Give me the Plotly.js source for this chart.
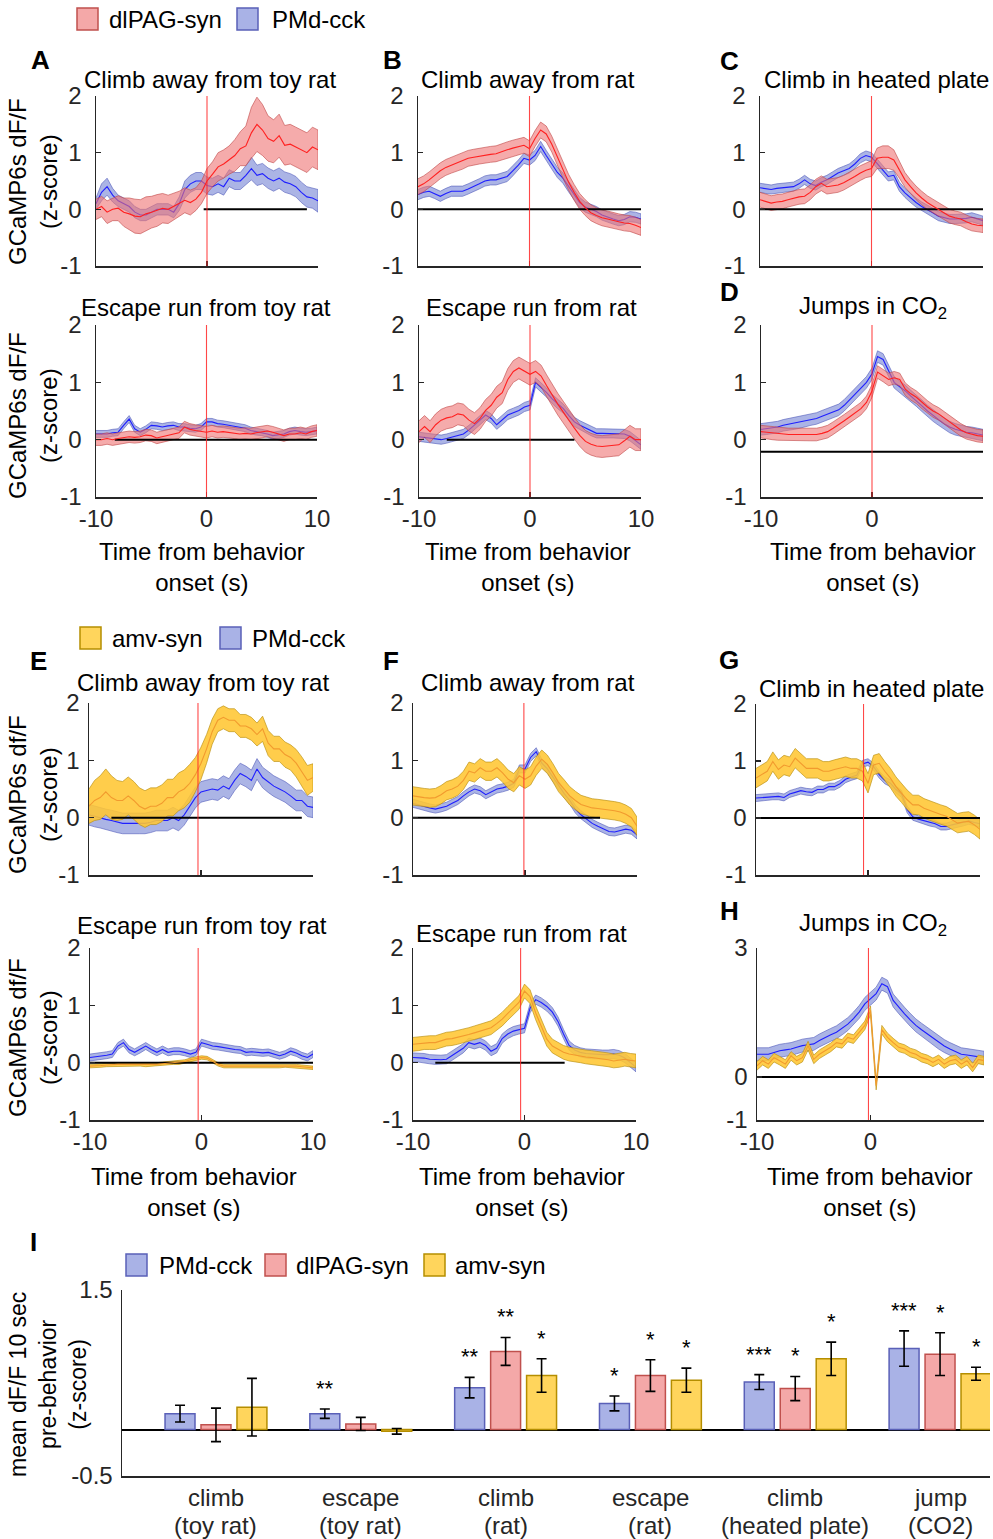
<!DOCTYPE html>
<html><head><meta charset="utf-8">
<script src="https://cdn.plot.ly/plotly-3.0.1.min.js"></script>
<style>html,body{margin:0;padding:0;background:#fff}#chart{width:993px;height:1539px}</style>
</head><body><div id="chart"></div>
<script>
// ---------------- DATA ----------------
const t = [-10,-9.5,-9,-8.5,-8,-7.5,-7,-6.5,-6,-5.5,-5,-4.5,-4,-3.5,-3,-2.5,-2,-1.5,-1,-0.5,0,0.5,1,1.5,2,2.5,3,3.5,4,4.5,5,5.5,6,6.5,7,7.5,8,8.5,9,9.5,10];

// Top block: PMd-cck vs dlPAG-syn
const climbToyPMd = [0.1,0.3,0.4,0.25,0.15,0.1,0.05,-0.05,-0.1,-0.1,-0.05,0.0,0.0,0.0,-0.05,0.1,0.35,0.45,0.5,0.5,0.42,0.4,0.45,0.4,0.55,0.5,0.5,0.6,0.72,0.6,0.63,0.55,0.5,0.55,0.48,0.45,0.4,0.3,0.22,0.2,0.15];
const climbToyPMdSem = [0.1,0.15,0.15,0.12,0.1,0.1,0.1,0.1,0.1,0.1,0.1,0.1,0.1,0.1,0.1,0.12,0.15,0.15,0.15,0.15,0.15,0.15,0.15,0.15,0.15,0.15,0.15,0.17,0.2,0.18,0.18,0.18,0.18,0.18,0.18,0.18,0.18,0.18,0.18,0.18,0.2];
const climbToyDl = [0.0,0.05,-0.05,0.0,0.02,-0.05,-0.08,-0.12,-0.13,-0.08,-0.05,-0.02,0.02,0.0,0.05,0.1,0.16,0.12,0.18,0.3,0.5,0.62,0.75,0.8,0.87,0.95,1.07,1.12,1.35,1.5,1.4,1.25,1.2,1.3,1.13,1.15,1.1,1.05,1.0,1.1,1.05];
const climbToyDlSem = [0.18,0.18,0.2,0.2,0.22,0.25,0.28,0.3,0.3,0.3,0.28,0.28,0.26,0.25,0.24,0.22,0.22,0.22,0.2,0.2,0.22,0.22,0.25,0.25,0.25,0.28,0.3,0.35,0.45,0.48,0.45,0.4,0.38,0.38,0.35,0.35,0.35,0.35,0.35,0.35,0.35];

const climbRatPMd = [0.26,0.3,0.32,0.28,0.23,0.28,0.32,0.32,0.32,0.36,0.4,0.45,0.5,0.52,0.52,0.55,0.58,0.68,0.78,0.9,0.87,0.95,1.11,0.95,0.8,0.65,0.55,0.4,0.25,0.12,0.04,0.0,-0.04,-0.1,-0.14,-0.17,-0.2,-0.18,-0.13,-0.14,-0.17];
const climbRatPMdSem = 0.09;
const climbRatDl = [0.4,0.45,0.52,0.6,0.68,0.74,0.78,0.82,0.85,0.9,0.92,0.94,0.96,0.97,0.98,1.02,1.05,1.08,1.1,1.13,1.07,1.25,1.4,1.33,1.15,0.92,0.69,0.48,0.3,0.14,0.03,-0.06,-0.11,-0.15,-0.17,-0.2,-0.22,-0.24,-0.25,-0.28,-0.32];
const climbRatDlSem = 0.14;

const heatPMd = [0.38,0.36,0.35,0.37,0.38,0.39,0.4,0.45,0.52,0.45,0.42,0.48,0.52,0.58,0.64,0.68,0.72,0.8,0.9,0.95,0.92,0.81,0.69,0.58,0.6,0.4,0.29,0.2,0.12,0.05,0.0,-0.06,-0.12,-0.15,-0.17,-0.17,-0.17,-0.16,-0.14,-0.17,-0.2];
const heatPMdSem = 0.08;
const heatDl = [0.17,0.14,0.11,0.13,0.14,0.17,0.2,0.22,0.23,0.3,0.4,0.46,0.4,0.42,0.43,0.47,0.52,0.58,0.64,0.69,0.72,0.9,0.92,0.92,0.87,0.7,0.52,0.4,0.29,0.2,0.12,0.06,0.0,-0.06,-0.12,-0.15,-0.17,-0.22,-0.26,-0.28,-0.29];
const heatDlSem = [0.13,0.13,0.13,0.13,0.13,0.13,0.13,0.13,0.13,0.13,0.13,0.13,0.13,0.13,0.13,0.13,0.13,0.13,0.13,0.13,0.14,0.18,0.2,0.2,0.18,0.15,0.13,0.12,0.12,0.12,0.12,0.12,0.12,0.12,0.12,0.12,0.12,0.12,0.12,0.12,0.12];

const escToyPMd = [0.1,0.1,0.1,0.12,0.13,0.25,0.36,0.19,0.13,0.18,0.25,0.24,0.22,0.24,0.25,0.22,0.22,0.2,0.19,0.22,0.31,0.31,0.28,0.27,0.25,0.23,0.22,0.2,0.16,0.14,0.13,0.1,0.07,0.08,0.1,0.14,0.16,0.14,0.13,0.14,0.16];
const escToyPMdSem = 0.06;
const escToyDl = [0.0,0.0,0.02,0.0,0.02,0.03,0.05,0.04,0.05,0.08,0.07,0.03,0.05,0.08,0.1,0.12,0.22,0.18,0.16,0.15,0.13,0.15,0.13,0.14,0.13,0.12,0.1,0.11,0.1,0.12,0.13,0.15,0.13,0.1,0.07,0.1,0.1,0.12,0.1,0.14,0.16];
const escToyDlSem = 0.1;

const escRatPMd = [0.05,0.04,0.03,0.01,0.0,0.02,0.05,0.07,0.1,0.17,0.25,0.34,0.43,0.37,0.26,0.34,0.43,0.47,0.51,0.57,0.6,1.0,0.91,0.82,0.71,0.62,0.54,0.42,0.31,0.25,0.2,0.15,0.11,0.11,0.11,0.11,0.11,0.1,0.06,-0.02,-0.09];
const escRatPMdSem = 0.08;
const escRatDl = [0.14,0.23,0.14,0.26,0.34,0.38,0.4,0.45,0.43,0.34,0.28,0.37,0.51,0.6,0.74,0.82,1.05,1.19,1.25,1.19,1.14,1.19,1.11,0.94,0.77,0.62,0.48,0.33,0.2,0.07,-0.03,-0.08,-0.11,-0.12,-0.11,-0.1,-0.09,-0.02,0.06,0.0,0.0];
const escRatDlSem = 0.19;

const jumpPMd = [0.18,0.19,0.2,0.22,0.25,0.27,0.28,0.3,0.32,0.35,0.37,0.41,0.45,0.48,0.52,0.6,0.7,0.8,0.9,1.0,1.15,1.45,1.4,1.2,1.0,0.92,0.85,0.76,0.68,0.59,0.5,0.42,0.35,0.28,0.22,0.18,0.15,0.13,0.12,0.1,0.08];
const jumpPMdSem = 0.1;
const jumpDl = [0.14,0.13,0.11,0.1,0.09,0.09,0.09,0.09,0.09,0.09,0.09,0.11,0.14,0.2,0.26,0.33,0.4,0.47,0.54,0.65,0.85,1.18,1.12,1.05,1.08,1.05,0.88,0.8,0.74,0.65,0.57,0.5,0.45,0.38,0.31,0.24,0.17,0.12,0.09,0.07,0.06];
const jumpDlSem = 0.11;

// Bottom block: PMd-cck vs amv-syn
const climbToyPMdB = [0.05,0.02,0.0,-0.03,-0.05,-0.08,-0.1,-0.1,-0.1,-0.1,-0.1,-0.08,-0.05,-0.05,-0.05,0.0,-0.05,0.05,0.2,0.35,0.45,0.48,0.5,0.48,0.55,0.5,0.65,0.77,0.72,0.65,0.85,0.7,0.62,0.55,0.5,0.45,0.38,0.3,0.3,0.2,0.18];
const climbToyPMdBSem = 0.18;
const climbToyAmv = [0.2,0.3,0.35,0.45,0.35,0.3,0.3,0.38,0.3,0.2,0.15,0.2,0.2,0.25,0.35,0.35,0.45,0.5,0.6,0.75,0.95,1.2,1.5,1.7,1.75,1.7,1.7,1.6,1.6,1.55,1.45,1.55,1.3,1.2,1.2,1.1,1.05,0.95,0.8,0.65,0.7];
const climbToyAmvSem = [0.3,0.35,0.38,0.4,0.38,0.35,0.33,0.33,0.33,0.32,0.32,0.32,0.32,0.32,0.32,0.32,0.33,0.33,0.33,0.3,0.28,0.25,0.22,0.2,0.2,0.2,0.2,0.2,0.2,0.2,0.2,0.22,0.22,0.22,0.22,0.22,0.22,0.24,0.26,0.26,0.24];

const climbRatPMdB = [0.25,0.22,0.2,0.17,0.15,0.17,0.2,0.25,0.3,0.38,0.45,0.5,0.47,0.4,0.45,0.5,0.52,0.55,0.6,0.85,0.85,1.05,1.15,0.95,0.85,0.7,0.55,0.42,0.3,0.15,0.05,-0.02,-0.1,-0.15,-0.2,-0.24,-0.25,-0.22,-0.2,-0.22,-0.3];
const climbRatPMdBSem = 0.07;
const climbRatAmv = [0.38,0.36,0.35,0.34,0.35,0.4,0.47,0.5,0.55,0.65,0.81,0.78,0.87,0.81,0.81,0.87,0.78,0.67,0.61,0.73,0.67,0.73,0.9,1.02,0.93,0.78,0.61,0.5,0.38,0.3,0.23,0.2,0.17,0.16,0.15,0.13,0.12,0.1,0.06,0.0,-0.15];
const climbRatAmvSem = 0.16;

const heatPMdB = [0.35,0.36,0.37,0.38,0.38,0.36,0.42,0.45,0.48,0.46,0.45,0.5,0.5,0.55,0.55,0.6,0.68,0.72,0.75,0.95,0.98,0.9,0.76,0.66,0.61,0.5,0.42,0.15,0.02,-0.02,-0.05,-0.08,-0.1,-0.15,-0.15,-0.12,-0.1,-0.08,-0.05,-0.08,-0.1];
const heatPMdBSem = 0.06;
const heatAmv = [0.7,0.76,0.82,0.99,0.85,0.93,0.9,1.05,0.96,0.87,0.87,0.87,0.82,0.82,0.85,0.87,0.9,0.87,0.87,0.82,0.61,0.93,0.96,0.82,0.7,0.55,0.44,0.32,0.23,0.23,0.17,0.13,0.09,0.06,0.03,-0.03,-0.09,-0.07,-0.06,-0.12,-0.2];
const heatAmvSem = 0.17;

const escToyPMdB = [0.09,0.1,0.12,0.13,0.15,0.29,0.35,0.23,0.18,0.23,0.29,0.23,0.18,0.23,0.18,0.2,0.2,0.18,0.15,0.18,0.35,0.32,0.29,0.28,0.26,0.25,0.23,0.22,0.18,0.19,0.18,0.17,0.18,0.15,0.12,0.15,0.2,0.17,0.12,0.09,0.15];
const escToyPMdBSem = 0.06;
const escToyAmv = [-0.06,-0.06,-0.05,-0.04,-0.03,-0.03,-0.03,-0.03,-0.03,-0.03,-0.04,-0.03,-0.03,-0.02,-0.01,0.0,0.0,0.02,0.05,0.07,0.09,0.08,0.02,-0.03,-0.06,-0.06,-0.06,-0.05,-0.06,-0.05,-0.06,-0.06,-0.05,-0.06,-0.06,-0.05,-0.05,-0.06,-0.07,-0.08,-0.09];
const escToyAmvSem = 0.03;

const escRatPMdB = [0.09,0.09,0.08,0.06,0.05,0.05,0.06,0.12,0.18,0.25,0.35,0.32,0.35,0.3,0.2,0.25,0.42,0.5,0.55,0.58,0.6,0.95,1.1,1.05,0.98,0.88,0.72,0.5,0.3,0.22,0.18,0.16,0.15,0.14,0.14,0.14,0.15,0.13,0.08,0.0,-0.08];
const escRatPMdBSem = 0.08;
const escRatAmv = [0.32,0.33,0.35,0.35,0.35,0.38,0.41,0.42,0.44,0.46,0.49,0.52,0.55,0.58,0.61,0.68,0.76,0.86,0.96,1.05,1.25,1.15,0.87,0.64,0.41,0.29,0.23,0.18,0.15,0.13,0.12,0.1,0.09,0.08,0.06,0.05,0.03,0.04,0.06,0.04,0.03];
const escRatAmvSem = 0.12;

const jumpPMdB = [0.53,0.53,0.53,0.57,0.61,0.63,0.65,0.69,0.73,0.75,0.77,0.85,0.92,0.98,1.04,1.13,1.23,1.36,1.51,1.7,1.82,1.94,2.17,2.1,1.78,1.62,1.47,1.33,1.2,1.1,1.0,0.9,0.8,0.72,0.65,0.59,0.53,0.51,0.49,0.47,0.45];
const jumpPMdBSem = 0.15;
const jumpAmv = [0.26,0.38,0.3,0.45,0.38,0.3,0.49,0.38,0.45,0.73,0.41,0.53,0.61,0.69,0.8,0.77,0.92,0.88,1.04,1.2,1.55,-0.2,1.1,0.92,0.8,0.69,0.65,0.57,0.53,0.45,0.41,0.34,0.41,0.3,0.38,0.41,0.3,0.38,0.22,0.41,0.38];
const jumpAmvSem = 0.1;

// black reference segments and onset lines per panel (data units)
const zeroStart = [-0.3,-10,-10,-8.3,-7.5,-10,-8,-10,-10,-10,-8,-10];
const zeroEnd   = [9,10,10,10,4,10,9,6.7,10,10,3.6,10];
const zeroLevel = [0,0,0,0,0,-0.21,0,0,0,0,0,0];
const onset     = [0,0,0,0,0,0,-0.27,-0.1,-0.4,-0.3,-0.35,-0.18];

const panelTitles = ['Climb away from toy rat','Climb away from rat','Climb in heated plate','Escape run from toy rat','Escape run from rat','Jumps in CO<sub>2</sub>',
  'Climb away from toy rat','Climb away from rat','Climb in heated plate','Escape run from toy rat','Escape run from rat','Jumps in CO<sub>2</sub>'];

// Panel I bars
const barCatLine1 = ['climb','escape','climb','escape','climb','jump'];
const barCatLine2 = ['(toy rat)','(toy rat)','(rat)','(rat)','(heated plate)','(CO2)'];
const barPMd = [0.17,0.17,0.45,0.28,0.51,0.87];
const errPMd = [0.09,0.05,0.11,0.08,0.08,0.19];
const barDl  = [0.05,0.06,0.84,0.58,0.44,0.81];
const errDl  = [0.18,0.07,0.15,0.17,0.13,0.23];
const barAmv = [0.24,-0.02,0.58,0.53,0.76,0.60];
const errAmv = [0.31,0.03,0.18,0.13,0.18,0.07];
const starsPMd = ['','**','**','*','***','***'];
const starsDl  = ['','','**','*','*','*'];
const starsAmv = ['','','*','*','*','*'];

// ---------------- STYLE / LAYOUT ----------------
const W = 993, H = 1539;
const FONT = 'Arial, "Liberation Sans", Helvetica, sans-serif';
const px = v => v / W;
const py = v => 1 - v / H;
const COL = {
  blue: {fill:'rgba(110,125,210,0.58)', edge:'rgba(80,90,185,0.85)', line:'#1f1fff', bar:'#a9b2e6', barEdge:'#5a60b8'},
  red:  {fill:'rgba(238,115,115,0.6)', edge:'rgba(190,70,70,0.85)', line:'#ff2020', bar:'#f4a8a8', barEdge:'#c0504d'},
  amv:  {fill:'rgba(255,198,50,0.88)', edge:'rgba(185,145,20,0.95)', line:'#f29a2e', bar:'#ffd55c', barEdge:'#b58e00'}
};

const series = [
  [climbToyPMd,climbToyPMdSem,climbToyDl,climbToyDlSem,'red'],
  [climbRatPMd,climbRatPMdSem,climbRatDl,climbRatDlSem,'red'],
  [heatPMd,heatPMdSem,heatDl,heatDlSem,'red'],
  [escToyPMd,escToyPMdSem,escToyDl,escToyDlSem,'red'],
  [escRatPMd,escRatPMdSem,escRatDl,escRatDlSem,'red'],
  [jumpPMd,jumpPMdSem,jumpDl,jumpDlSem,'red'],
  [climbToyPMdB,climbToyPMdBSem,climbToyAmv,climbToyAmvSem,'amv'],
  [climbRatPMdB,climbRatPMdBSem,climbRatAmv,climbRatAmvSem,'amv'],
  [heatPMdB,heatPMdBSem,heatAmv,heatAmvSem,'amv'],
  [escToyPMdB,escToyPMdBSem,escToyAmv,escToyAmvSem,'amv'],
  [escRatPMdB,escRatPMdBSem,escRatAmv,escRatAmvSem,'amv'],
  [jumpPMdB,jumpPMdBSem,jumpAmv,jumpAmvSem,'amv']
];

// pixel geometry of each panel: [x0,x1,y0,y1]
const geom = [
  [96,318,96,266],[418,641,96,266],[760,983,96,266],
  [96,317,325,497],[419,641,325,497],[761,983,325,497],
  [89,313,703,875],[413,637,703,875],[756,980,704,875],
  [90,313,948,1120],[413,636,948,1120],[757,984,948,1120]
];
const showXLabels = [false,false,false,true,true,true,false,false,false,true,true,true];
const yStandoff = [8,8,8,8,8,8,3,3,3,3,3,3];
const titlePos = [[210,79],[528,79],[876,79],[206,307],[531,307],[873,307],[203,682],[528,682],[871,688],[202,925],[521,933],[873,924]];

const traces = [];
const layout = {
  width:W, height:H, margin:{l:0,r:0,t:0,b:0}, paper_bgcolor:'#fff', plot_bgcolor:'rgba(0,0,0,0)',
  showlegend:false, font:{family:FONT, color:'#000'},
  annotations:[], shapes:[],
  barmode:'group', bargap:0.255, bargroupgap:0.167
};

function axName(i){ return i===1 ? '' : String(i); }
function band(m, s, col, i){
  const sa = Array.isArray(s) ? s : m.map(()=>s);
  const up = m.map((v,k)=>v+sa[k]);
  const lo = m.map((v,k)=>v-sa[k]);
  return {x:t.concat(t.slice().reverse()), y:up.concat(lo.slice().reverse()), mode:'lines', fill:'toself',
    fillcolor:col.fill, line:{color:col.edge,width:0.7}, xaxis:'x'+axName(i), yaxis:'y'+axName(i), hoverinfo:'skip'};
}
function meanLine(m, col, i){
  return {x:t, y:m, mode:'lines', line:{color:col.line,width:1.1}, xaxis:'x'+axName(i), yaxis:'y'+axName(i), hoverinfo:'skip'};
}
const axCommon = () => ({showline:true, linecolor:'#262626', linewidth:1.5, ticks:'inside', ticklen:5, tickwidth:1.5,
  tickcolor:'#262626', showgrid:false, zeroline:false, fixedrange:true, tickfont:{family:FONT,size:24,color:'#262626'}});

for (let p=0; p<12; p++){
  const i = p+1, a = axName(i);
  const [m1,s1,m2,s2,c2] = series[p];
  const g = geom[p];
  const isH = (p===11);
  traces.push(band(m1,s1,COL.blue,i));
  traces.push(meanLine(m1,COL.blue,i));
  traces.push(band(m2,s2,COL[c2],i));
  traces.push({x:[zeroStart[p],zeroEnd[p]], y:[zeroLevel[p],zeroLevel[p]], mode:'lines', line:{color:'#000',width:2},
    xaxis:'x'+a, yaxis:'y'+a, hoverinfo:'skip'});
  traces.push(meanLine(m2,COL[c2],i));
  layout['xaxis'+a] = Object.assign(axCommon(), {domain:[px(g[0]),px(g[1])], anchor:'y'+a, range:[-10,10],
    tickvals:[-10,0,10], ticktext:['-10','0','10'], showticklabels:showXLabels[p], ticklabelstandoff:0});
  layout['yaxis'+a] = Object.assign(axCommon(), {domain:[py(g[3]),py(g[2])], anchor:'x'+a,
    range: isH ? [-1,3] : [-1,2], tickvals: isH ? [-1,0,3] : [-1,0,1,2], ticktext: isH ? ['-1','0','3'] : ['-1','0','1','2'],
    ticklabelstandoff:yStandoff[p]});
  layout.shapes.push({type:'line', xref:'x'+a, yref:'y'+a+' domain', x0:onset[p], x1:onset[p], y0:0, y1:1,
    line:{color:'rgba(255,40,40,0.85)', width:1.1}, layer:'above'});
  layout.annotations.push({text:panelTitles[p], xref:'paper', yref:'paper', x:px(titlePos[p][0]), y:py(titlePos[p][1]),
    xanchor:'center', yanchor:'middle', showarrow:false, font:{size:24, family:FONT, color:'#000'}});
}

// Panel I
const barX = barCatLine1.map((l,k)=>l+' '+barCatLine2[k]);
const barSeries = [[barPMd,errPMd,COL.blue,starsPMd,-36],[barDl,errDl,COL.red,starsDl,0],[barAmv,errAmv,COL.amv,starsAmv,36]];
barSeries.forEach(([vals,errs,col,stars,shift])=>{
  traces.push({type:'bar', x:barX, y:vals, xaxis:'x13', yaxis:'y13',
    marker:{color:col.bar, line:{color:col.barEdge,width:1.5}},
    error_y:{type:'data', array:errs, visible:true, color:'#000', thickness:1.6, width:5}, hoverinfo:'skip'});
  vals.forEach((v,k)=>{
    if (!stars[k]) return;
    layout.annotations.push({text:stars[k], xref:'x13', yref:'y13', x:barX[k], y:v+errs[k], xshift:shift, yshift:6,
      xanchor:'center', yanchor:'bottom', showarrow:false, font:{size:22,family:FONT,color:'#000'}});
  });
});
barX.forEach((c,k)=>{
  layout.annotations.push({text:barCatLine1[k], xref:'x13', yref:'paper', x:c, y:py(1497), xanchor:'center', yanchor:'middle',
    showarrow:false, font:{size:24,family:FONT,color:'#262626'}});
  layout.annotations.push({text:barCatLine2[k], xref:'x13', yref:'paper', x:c, y:py(1525), xanchor:'center', yanchor:'middle',
    showarrow:false, font:{size:24,family:FONT,color:'#262626'}});
});
layout.xaxis13 = Object.assign(axCommon(), {domain:[px(122),px(990)], anchor:'y13', type:'category', range:[-0.649,5.345],
  ticks:'', showticklabels:false});
layout.yaxis13 = Object.assign(axCommon(), {domain:[py(1476),py(1290)], anchor:'x13', range:[-0.5,1.5],
  tickvals:[-0.5,1.5], ticktext:['-0.5','1.5'], zeroline:true, zerolinecolor:'#000', zerolinewidth:2, ticklabelstandoff:3});

// Y axis titles
const yTitles = [['GCaMP6s dF/F<br>(z-score)',182],['GCaMP6s dF/F<br>(z-score)',416],['GCaMP6s df/F<br>(z-score)',795],['GCaMP6s df/F<br>(z-score)',1038]];
yTitles.forEach(([txt,yc])=>layout.annotations.push({text:txt, xref:'paper', yref:'paper', x:px(33), y:py(yc), textangle:-90,
  xanchor:'center', yanchor:'middle', showarrow:false, font:{size:24,family:FONT,color:'#000'}}));
layout.annotations.push({text:'mean dF/F 10 sec<br>pre-behavior<br>(z-score)', xref:'paper', yref:'paper', x:px(48), y:py(1385),
  textangle:-90, xanchor:'center', yanchor:'middle', showarrow:false, font:{size:23,family:FONT,color:'#000'}});

// X axis titles
[[202,567],[528,567],[873,567],[194,1192],[522,1192],[870,1192]].forEach(([xc,yc])=>layout.annotations.push({
  text:'Time from behavior<br>onset (s)', xref:'paper', yref:'paper', x:px(xc), y:py(yc), xanchor:'center', yanchor:'middle',
  showarrow:false, font:{size:24,family:FONT,color:'#000'}}));

// Panel letters
[['A',40,60],['B',392,60],['C',729,61],['D',729,292],['E',38,661],['F',391,661],['G',729,660],['H',729,911],['I',33,1242]].forEach(([l,xc,yc])=>
  layout.annotations.push({text:'<b>'+l+'</b>', xref:'paper', yref:'paper', x:px(xc), y:py(yc), xanchor:'center', yanchor:'middle',
  showarrow:false, font:{size:26,family:FONT,color:'#000'}}));

// Legends (swatch boxes + labels)
const legendItems = [
  [COL.red,77,8,'dlPAG-syn',107],[COL.blue,237,8,'PMd-cck',270],
  [COL.amv,80,627,'amv-syn',110],[COL.blue,220,627,'PMd-cck',250],
  [COL.blue,126,1254,'PMd-cck',157],[COL.red,265,1254,'dlPAG-syn',294],[COL.amv,424,1254,'amv-syn',453]
];
legendItems.forEach(([col,x0,y0,label,tx])=>{
  layout.shapes.push({type:'rect', xref:'paper', yref:'paper', x0:px(x0), x1:px(x0+21), y0:py(y0+22), y1:py(y0),
    fillcolor:col.bar, line:{color:col.barEdge,width:1.5}});
  layout.annotations.push({text:label, xref:'paper', yref:'paper', x:px(tx), y:py(y0+11), xanchor:'left', yanchor:'middle',
    showarrow:false, font:{size:24,family:FONT,color:'#000'}});
});

Plotly.newPlot('chart', traces, layout, {staticPlot:true, displayModeBar:false});
</script></body></html>
